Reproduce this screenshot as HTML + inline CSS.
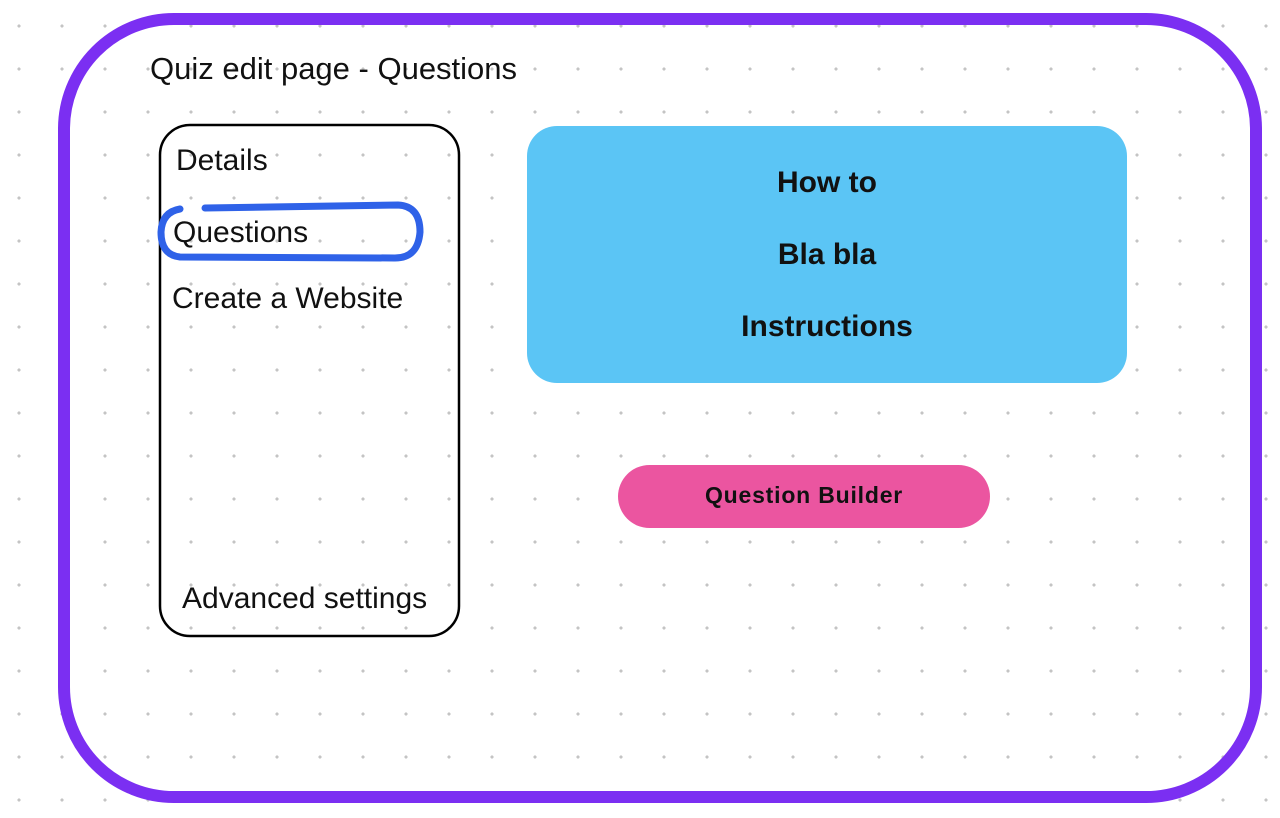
<!DOCTYPE html>
<html><head><style>
body{margin:0;width:1280px;height:818px;overflow:hidden;background:#fff;font-family:"Liberation Sans",sans-serif;}
.bg{position:absolute;inset:0;background-image:radial-gradient(circle,#c4c4c4 1.4px,transparent 1.8px);background-size:43px 43px;background-position:-2.5px 4.5px;}
.t{position:absolute;white-space:nowrap;color:#111;line-height:1;}
</style></head><body>
<div class="bg"></div>
<svg style="position:absolute;left:0;top:0" width="1280" height="818">
<rect x="64" y="19" width="1192" height="778" rx="110" fill="none" stroke="#7b2ff2" stroke-width="12"/>
<rect x="160" y="125" width="299" height="511" rx="30" fill="none" stroke="#000" stroke-width="2.5"/>
<rect x="527" y="126" width="600" height="257" rx="30" fill="#5bc5f5"/>
<rect x="618" y="465" width="372" height="63" rx="31.5" fill="#eb55a0"/>
<path d="M205 208 L398 205 Q420 206 420 232 Q418 258 395 258 L180 257 Q161 255 161 232 Q162 212 180 209" fill="none" stroke="#2f62e8" stroke-width="7" stroke-linecap="round"/>
</svg>
<div class="t" style="left:150px;top:53px;font-size:31px">Quiz edit page - Questions</div>
<div class="t" style="left:176px;top:146px;font-size:30px">Details</div>
<div class="t" style="left:173px;top:218px;font-size:30px">Questions</div>
<div class="t" style="left:172px;top:284px;font-size:30px">Create a Website</div>
<div class="t" style="left:182px;top:584px;font-size:30px">Advanced settings</div>
<div class="t" style="left:627px;width:400px;text-align:center;top:168px;font-size:30px;font-weight:bold">How to</div>
<div class="t" style="left:627px;width:400px;text-align:center;top:240px;font-size:30px;font-weight:bold">Bla bla</div>
<div class="t" style="left:627px;width:400px;text-align:center;top:312px;font-size:30px;font-weight:bold">Instructions</div>
<div class="t" style="left:618px;width:372px;text-align:center;top:484px;font-size:23px;font-weight:bold;letter-spacing:0.8px">Question Builder</div>
</body></html>
